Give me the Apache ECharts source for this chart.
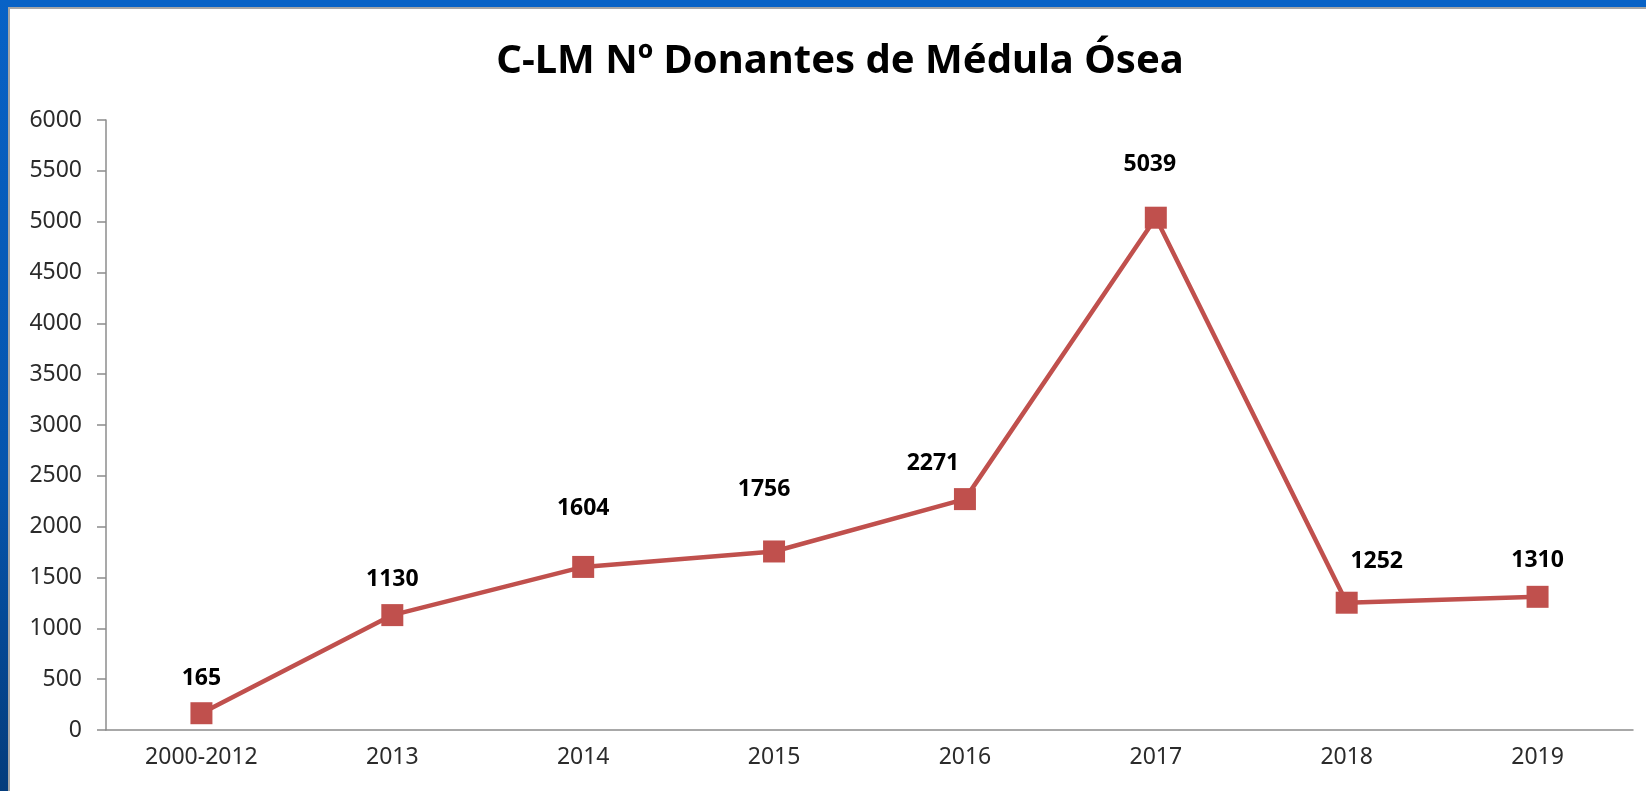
<!DOCTYPE html>
<html>
<head>
<meta charset="utf-8">
<title>C-LM Nº Donantes de Médula Ósea</title>
<script src="https://cdn.jsdelivr.net/npm/echarts@6/dist/echarts.min.js"></script>
<style>
  html, body { margin: 0; padding: 0; background: #fff; }
  #chart { width: 1646px; height: 791px; }
</style>
</head>
<body>
<div id="chart"></div>
<script>
// datos
var years = ['2000-2012', '2013', '2014', '2015', '2016', '2017', '2018', '2019']
var donantes = [165, 1130, 1604, 1756, 2271, 5039, 1252, 1310]
// desplazamiento de cada etiqueta respecto a su punto (colocadas a mano en el original)
var labelShift = [[0, -35], [0, -36], [0, -58], [-10, -62], [-32, -36], [-6, -53], [30, -41], [0, -36]]

var font = 'Noto Sans'
var red = '#c0504d'

var chart = echarts.init(document.getElementById('chart'))

var option = {
    animation: false,
    title: {
        text: 'C-LM Nº Donantes de Médula Ósea',
        left: 835,
        textAlign: 'center',
        top: 37,
        textStyle: {
            fontFamily: font,
            fontWeight: 'bold',
            fontSize: 40,
            color: '#000'
        }
    },
    grid: {
        left: 106,
        right: 13,
        top: 120,
        bottom: 61
    },
    xAxis: {
        type: 'category',
        data: years,
        axisLine: { lineStyle: { color: '#8c8c8c', width: 1.5 } },
        axisTick: { length: 9, lineStyle: { color: '#8c8c8c', width: 1.5 } },
        axisLabel: {
            interval: 0,
            margin: 16,
            fontFamily: font,
            fontSize: 23,
            color: '#2b2b2b'
        }
    },
    yAxis: {
        type: 'value',
        min: 0,
        max: 6000,
        interval: 500,
        axisLine: { show: true, lineStyle: { color: '#8c8c8c', width: 1.5 } },
        axisTick: { show: true, length: 9, lineStyle: { color: '#8c8c8c', width: 1.5 } },
        splitLine: { show: false },
        axisLabel: {
            margin: 24,
            fontFamily: font,
            fontSize: 23,
            color: '#2b2b2b',
            formatter: function (v) { return String(v) }
        }
    },
    series: [{
        type: 'line',
        data: donantes.map(function (v, i) {
            return { value: v, label: { offset: labelShift[i] } }
        }),
        symbol: 'rect',
        symbolSize: 22,
        lineStyle: { color: red, width: 4.5 },
        itemStyle: { color: red },
        label: {
            show: true,
            position: 'inside',
            fontFamily: font,
            fontWeight: 'bold',
            fontSize: 23,
            color: '#000'
        }
    }],
    graphic: [
        // marco azul de la diapositiva
        { type: 'rect', shape: { x: 0, y: 0, width: 1646, height: 7 }, style: { fill: '#0862c6' }, z: 100 },
        {
            type: 'rect', shape: { x: 0, y: 0, width: 8, height: 791 }, z: 100,
            style: {
                fill: new echarts.graphic.LinearGradient(0, 0, 0, 1, [
                    { offset: 0, color: '#0862c6' },
                    { offset: 0.6, color: '#0655ad' },
                    { offset: 1, color: '#043c7c' }
                ])
            }
        },
        { type: 'rect', shape: { x: 8, y: 7, width: 1638, height: 2 }, style: { fill: '#a6a6a6' }, z: 100 },
        { type: 'rect', shape: { x: 8, y: 7, width: 2, height: 784 }, style: { fill: '#a6a6a6' }, z: 100 }
    ]
}

chart.setOption(option)
</script>
</body>
</html>
